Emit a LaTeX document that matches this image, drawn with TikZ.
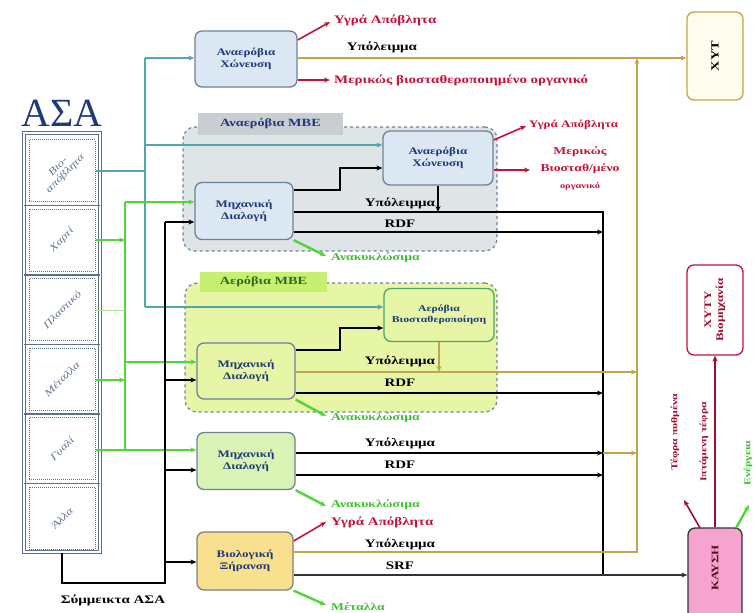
\documentclass[tikz,border=0pt]{standalone}
\usepackage{fontspec}
\setmainfont{Liberation Serif}[FakeStretch=1.3]
\newfontfamily\titlefont{Liberation Serif}
\usetikzlibrary{arrows.meta}
\definecolor{tealln}{HTML}{4FA8AE}
\definecolor{grnln}{HTML}{52D43A}
\definecolor{oliveln}{HTML}{BFA64A}
\definecolor{redln}{HTML}{C4123A}
\definecolor{maroon}{HTML}{9A1030}
\definecolor{navytx}{HTML}{1E3A78}
\definecolor{boxln}{HTML}{6E8296}
\definecolor{bluefill}{HTML}{DCE7F4}
\definecolor{greyarea}{HTML}{DFE4E7}
\definecolor{greytab}{HTML}{C8CED2}
\definecolor{limearea}{HTML}{E6F6A6}
\definecolor{limetab}{HTML}{C8F070}
\definecolor{mintfill}{HTML}{D9F4B4}
\definecolor{yelfill}{HTML}{F8E08E}
\definecolor{pinkfill}{HTML}{F5A3CF}
\definecolor{ivory}{HTML}{FFFDF0}
\definecolor{colln}{HTML}{5C6F8C}
\definecolor{ktx}{HTML}{5F7391}
\definecolor{greentx}{HTML}{3FBF2F}
\definecolor{darkgrn}{HTML}{2E6B1E}
\begin{document}
\begin{tikzpicture}[x=1pt,y=-1pt,>={Stealth[length=6pt,width=5pt]}]
\tikzstyle{unit} = [draw=boxln,rounded corners=7pt,line width=1.3pt,align=center,text=navytx,font=\bfseries\fontsize{10}{12}\selectfont] %process box
\tikzstyle{area} = [draw=boxln,dashed,rounded corners=12pt,line width=1.2pt] %MBE plant
\tikzstyle{tab} = [inner sep=0pt,font=\bfseries\fontsize{11}{12}\selectfont] %plant title
\tikzstyle{kbox} = [draw=colln,densely dotted,line width=1pt,minimum width=66pt,minimum height=62pt] %waste stream
\tikzstyle{ktxt} = [text=ktx,align=center,font=\itshape\fontsize{10}{10}\selectfont]
\tikzstyle{lbl} = [inner sep=1pt,font=\bfseries\fontsize{11.5}{12}\selectfont] %stream label
\tikzstyle{rlbl} = [lbl,text=redln]
\tikzstyle{glbl} = [lbl,text=greentx,font=\bfseries\fontsize{10.5}{12}\selectfont]
\tikzstyle{bl} = [line width=1.8pt] %black flow
\tikzstyle{gl} = [->,grnln,line width=2.4pt]
\tikzstyle{tl} = [tealln,line width=1.6pt]
\tikzstyle{ol} = [oliveln,line width=2pt]
\tikzstyle{rl} = [->,redln,line width=1.6pt]
\useasboundingbox (0,0) rectangle (756,613);
% source waste
\node[font=\titlefont\fontsize{40}{40}\selectfont,text=navytx] (asatitle) at (62,113) {ΑΣΑ};
\node[draw=colln,double=white,double distance=1.5pt,line width=1pt,minimum width=76pt,minimum height=419pt] (asa) at (62,342.5) {};
\foreach \y in {205.5,275,344.5,414,483.5}
  \draw[colln,line width=1.3pt] (24,\y) -- (100,\y);
\foreach \t [count=\i] in {{Βιο-\\απόβλητα},Χαρτί,Πλαστικό,Μέταλλα,Γυαλί,Άλλα}{
  \node[kbox] (k\i) at (62,101+\i*69.5) {};
  \node[ktxt,rotate=45] (kt\i) at (k\i) {\t};
}
% plant areas
\node[area,fill=greyarea,minimum width=314pt,minimum height=124pt] (mbe1) at (340,189) {};
\node[tab,fill=greytab,text=navytx,minimum width=145pt,minimum height=22pt] (mbe1tab) at (270.5,124) {Αναερόβια MBE};
\node[area,fill=limearea,minimum width=312pt,minimum height=129pt] (mbe2) at (341,347.5) {};
\node[tab,fill=limetab,text=darkgrn,minimum width=127pt,minimum height=20pt] (mbe2tab) at (263.5,282) {Αερόβια MBE};
% processes
\node[unit,fill=bluefill,minimum width=102pt,minimum height=56pt] (ad0) at (246,59) {Αναερόβια\\Χώνευση};
\node[unit,fill=bluefill,minimum width=110pt,minimum height=54pt] (ad1) at (438,158) {Αναερόβια\\Χώνευση};
\node[unit,fill=bluefill,minimum width=98pt,minimum height=57pt] (md1) at (244,211) {Μηχανική\\Διαλογή};
\node[unit,fill=limearea,draw=boxln!70!green,minimum width=110pt,minimum height=53pt,font=\bfseries\fontsize{9}{11}\selectfont] (ab) at (439,315) {Αερόβια\\Βιοσταθεροποίηση};
\node[unit,fill=limearea,minimum width=98pt,minimum height=56pt] (md2) at (246,371) {Μηχανική\\Διαλογή};
\node[unit,fill=mintfill,minimum width=98pt,minimum height=57pt] (md3) at (246,461) {Μηχανική\\Διαλογή};
\node[unit,fill=yelfill,draw=gray,minimum width=96pt,minimum height=58pt] (bd) at (245,561) {Βιολογική\\Ξήρανση};
% destinations
\node[unit,fill=ivory,draw=oliveln,minimum width=56pt,minimum height=88pt] (xyt) at (715,56) {};
\node[rotate=90,text=black,font=\bfseries\fontsize{11}{12}\selectfont] (xyttx) at (xyt) {ΧΥΤ};
\node[unit,fill=white,draw=redln,minimum width=56pt,minimum height=90pt] (xyty) at (715,310) {};
\node[rotate=90,align=center,text=maroon,font=\bfseries\fontsize{10}{12}\selectfont] (xytytx) at (xyty) {ΧΥΤΥ\\Βιομηχανία};
\node[unit,fill=pinkfill,draw=black!80,minimum width=54pt,minimum height=100pt] (kay) at (715,578) {};
\node[rotate=90,text=maroon!60!black,font=\bfseries\fontsize{10}{12}\selectfont] (kaytx) at (715,568) {ΚΑΥΣΗ};
% junctions
\coordinate (tt) at (145,58);
\coordinate (tb) at (145,307);
\coordinate (gt) at (125,202);
\coordinate (gb) at (125,450);
\coordinate (bt) at (165,222);
\coordinate (bb) at (165,583);
\coordinate (vt) at (603,212);
\coordinate (vb) at (603,575);
\coordinate (ot) at (637,58);
\coordinate (ob) at (637,552);
% organic stream
\draw[tl] (k1.east |- 0,171) -- (145,171);
\draw[tl] (tb) -- (tt);
\draw[tl,->] (tt) -- (ad0.west |- tt);
\draw[tl,->] (145,145) -- (ad1.west |- 0,145);
\draw[tl,->] (tb) -- (ab.west |- tb);
% recyclables
\draw[grnln,line width=2.4pt] (gt) -- (gb);
\draw[gl] (k2.east |- 0,240) -- (125,240);
\draw[grnln!50,line width=1pt] (k3.east |- 0,310) -- (125,310);
\draw[gl] (k4.east |- 0,380) -- (125,380);
\draw[gl] (k5.east |- gb) -- (md3.west |- gb);
\draw[gl] (gt) -- (md1.west |- gt);
\draw[gl] (125,362) -- (md2.west |- 0,362);
% mixed waste
\draw[bl] (asa.south) -- (62,583) -- (bb) -- (bt);
\draw[bl,->] (bt) -- (md1.west |- bt);
\draw[bl,->] (165,380) -- (md2.west |- 0,380);
\draw[bl,->] (165,470) -- (md3.west |- 0,470);
\draw[bl,->] (165,562) -- (bd.west |- 0,562);
% anaerobic digestion
\draw[rl] (ad0.east |- 0,40) -- (330,22);
\draw[ol,->] (ad0.east |- ot) -- (ot) -- (xyt.west |- ot);
\draw[rl] (ad0.east |- 0,80) -- (330,80);
% anaerobic MBT
\draw[bl,->] (md1.east |- 0,190) -- (340,190) |- (ad1.west |- 0,168);
\draw[bl,->] (ad1.south) -- (ad1.south |- vt);
\draw[bl] (md1.east |- vt) -- (vt) -- (vb);
\draw[bl,->] (md1.east |- 0,232) -- (603,232);
\draw[rl] (ad1.east |- 0,140) -- (526,126);
\draw[rl] (ad1.east |- 0,170) -- (530,170);
\draw[gl] (md1.south east) -- (326,256);
% aerobic MBT
\draw[bl,->] (md2.east |- 0,350) -- (340,350) |- (ab.west |- 0,328);
\draw[ol,line width=1.4pt,->] (ab.south) -- (ab.south |- 0,372);
\draw[ol,line width=1.3pt,->] (md2.east |- 0,372) -- (637,372);
\draw[bl,line width=2.2pt,->] (md2.east |- 0,393) -- (603,393);
\draw[gl] (md2.south east) -- (326,416);
% mechanical sorting
\draw[bl,->] (md3.east |- 0,453) -- (603,453);
\draw[ol,line width=1.3pt,->] (603,453) -- (637,453);
\draw[bl,->] (md3.east |- 0,475) -- (603,475);
\draw[gl] (md3.south east) -- (326,506);
% biodrying
\draw[rl] (bd.east |- 0,541) -- (326,522);
\draw[ol,line width=2.4pt,->] (bd.east |- ob) -- (ob) -- (ot);
\draw[bl,black!80,->] (bd.east |- vb) -- (kay.west |- vb);
\draw[gl] (bd.south east) -- (326,605);
% combustion
\draw[rl,maroon] (700,528) -- (684,500);
\draw[rl,maroon] (kay.north) -- (xyty.south);
\draw[gl] (736,528) -- (749,505);
% labels
\node[rlbl,anchor=west] (l1) at (333,20) {Υγρά Απόβλητα};
\node[lbl] (l2) at (382,47) {Υπόλειμμα};
\node[rlbl,anchor=west] (l3) at (333,80) {Μερικώς βιοσταθεροποιημένο οργανικό};
\node[rlbl,anchor=west,font=\bfseries\fontsize{10}{12}\selectfont] (l4) at (528,125) {Υγρά Απόβλητα};
\node[rlbl,align=center,font=\bfseries\fontsize{10.5}{17}\selectfont] (l5) at (580,168) {Μερικώς\\Βιοσταθ/μένο\\{\fontsize{8}{9}\selectfont οργανικό}};
\node[lbl] (l6) at (400,203) {Υπόλειμμα};
\node[lbl] (l7) at (400,224) {RDF};
\node[glbl,anchor=west] (l8) at (330,258) {Ανακυκλώσιμα};
\node[lbl] (l9) at (400,361) {Υπόλειμμα};
\node[lbl] (l10) at (400,383) {RDF};
\node[glbl,anchor=west] (l11) at (330,418) {Ανακυκλώσιμα};
\node[lbl] (l12) at (400,443) {Υπόλειμμα};
\node[lbl] (l13) at (400,465) {RDF};
\node[glbl,anchor=west] (l14) at (330,505) {Ανακυκλώσιμα};
\node[rlbl,anchor=west] (l15) at (330,522) {Υγρά Απόβλητα};
\node[lbl] (l16) at (400,544) {Υπόλειμμα};
\node[lbl] (l17) at (400,566) {SRF};
\node[glbl,anchor=west] (l18) at (330,607) {Μέταλλα};
\node[lbl] (l19) at (113,600) {Σύμμεικτα ΑΣΑ};
\node[rlbl,text=maroon,rotate=90,font=\bfseries\fontsize{9}{10}\selectfont] (l20) at (675,432) {Τέφρα πυθμένα};
\node[rlbl,text=maroon,rotate=90,font=\bfseries\fontsize{9}{10}\selectfont] (l21) at (704,442) {Ιπτάμενη τέφρα};
\node[glbl,rotate=90,font=\bfseries\fontsize{9}{10}\selectfont] (l22) at (748,463) {Ενέργεια};
\end{tikzpicture}
\end{document}
